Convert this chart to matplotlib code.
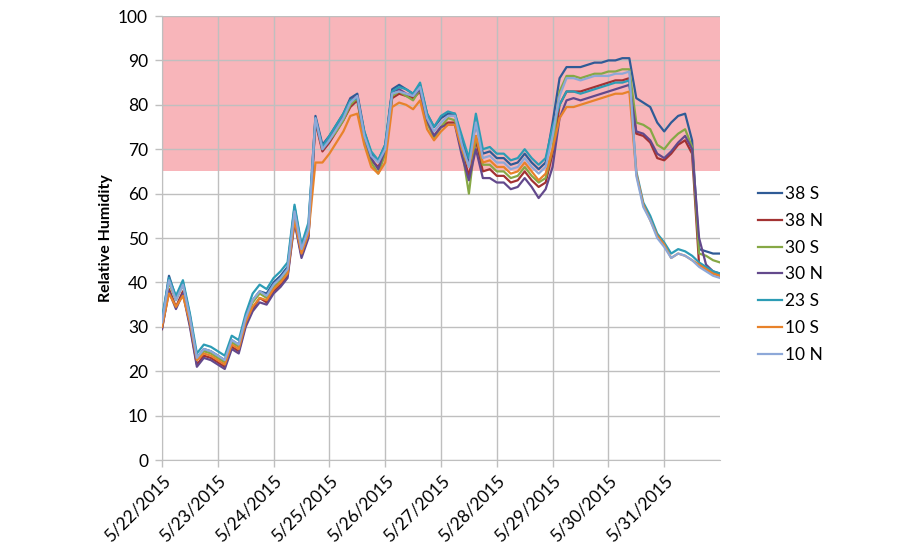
import pandas as pd
import matplotlib.pyplot as plt

# sensor readings every 3 hours, 5/22/2015 00:00 to 6/1/2015 00:00
series_names = ['38 S', '38 N', '30 S', '30 N', '23 S', '10 S', '10 N']
series_colors = ['#2F5B96', '#A33232', '#86A845', '#63498C', '#2C9CB5', '#E8822A', '#8DA8D8']

rh_38s = [31, 41.5, 36.5, 40, 32.5, 23, 25, 24.5, 23.5,
          22.5, 27, 26, 32, 36, 38, 37.5, 40,
          41.5, 43.5, 57, 48, 52.5, 77.5, 71, 73,
          75.5, 78, 81.5, 82.5, 74, 69, 67.5, 71,
          83.5, 84.5, 83.5, 82.5, 84.5, 78, 75, 77,
          78, 78, 72, 67, 76, 69, 69.5, 68,
          68, 66.5, 67, 69, 67, 65.5, 67, 76,
          86, 88.5, 88.5, 88.5, 89, 89.5, 89.5, 90,
          90, 90.5, 90.5, 81.5, 80.5, 79.5, 76, 74,
          76, 77.5, 78, 72, 47.5, 47, 46.5, 46.5]
rh_38n = [29.5, 38.5, 34.5, 38, 30.5, 21.5, 23.5, 23, 22,
          21, 25.5, 24.5, 30.5, 34, 36.5, 35.5, 38,
          39.5, 41.5, 54, 46, 50.5, 76, 69.5, 71.5,
          74, 76.5, 79.5, 81, 72, 67.5, 66, 69,
          81.5, 82.5, 82, 81.5, 83, 76, 73, 75,
          76, 76, 69.5, 64, 72, 65, 65.5, 64,
          64, 62.5, 63, 65, 63, 61.5, 62.5, 69,
          80, 83, 83, 83, 83.5, 84, 84.5, 85,
          85.5, 85.5, 86, 73.5, 73, 71.5, 68, 67.5,
          69, 71, 72, 69, 44, 43, 42, 41.5]
rh_30s = [31, 40, 36, 39.5, 32, 22.5, 24.5, 24, 23,
          22, 26.5, 25.5, 31.5, 35.5, 37.5, 36.5, 39,
          40.5, 42.5, 55.5, 47, 51.5, 76.5, 70, 72,
          74, 76.5, 80, 81.5, 72, 67, 64.5, 69,
          82, 83, 82, 81, 83.5, 76, 72.5, 75,
          77, 76.5, 70, 60, 73, 66.5, 66.5, 65,
          65, 63.5, 64, 66, 64, 62.5, 63.5, 70,
          83, 86.5, 86.5, 86, 86.5, 87, 87, 87.5,
          87.5, 88, 88, 76, 75.5, 74.5, 71, 70,
          72, 73.5, 74.5, 70.5, 46.5, 46, 45, 44.5]
rh_30n = [29.5, 38, 34, 37.5, 30, 21, 23, 22.5, 21.5,
          20.5, 25, 24, 30, 33.5, 35.5, 35, 37.5,
          39, 41, 53.5, 45.5, 50, 76.5, 70, 72,
          75, 77.5, 81, 82, 73, 68, 65.5, 70,
          83, 83.5, 82.5, 82, 83.5, 76.5, 73, 75,
          75.5, 75.5, 68.5, 63, 70, 63.5, 63.5, 62.5,
          62.5, 61, 61.5, 63.5, 61.5, 59, 61, 66,
          77, 81, 81.5, 81, 81.5, 82, 82.5, 83,
          83.5, 84, 84.5, 74, 73.5, 72, 69, 68,
          69.5, 71.5, 73, 70, 50, 44, 42.5, 42]
rh_23s = [32, 41, 37, 40.5, 33, 24, 26, 25.5, 24.5,
          23.5, 28, 27, 33, 37.5, 39.5, 38.5, 41,
          42.5, 44.5, 57.5, 48.5, 53.5, 77, 70.5, 73,
          75.5, 78, 81, 81.5, 74, 69.5, 67.5, 71,
          83, 84, 83.5, 82.5, 85, 78, 75, 77.5,
          78.5, 78, 73, 68, 78, 70, 70.5, 69,
          69, 67.5, 68, 70, 68, 66.5, 68, 75,
          80, 83, 83, 82.5, 83, 83.5, 84, 84.5,
          85, 85, 85.5, 65, 58, 55, 51, 49,
          46.5, 47.5, 47, 46, 44.5, 43.5, 42.5, 42]
rh_10s = [30, 37.5, 34.5, 37, 31, 22.5, 24, 23.5, 22.5,
          21.5, 26, 25, 31, 34.5, 36.5, 36, 38.5,
          40, 42, 54, 46.5, 51, 67, 67, 69,
          71.5, 74, 77.5, 78, 71, 66, 64.5, 67,
          79.5, 80.5, 80, 79, 81, 74.5, 72, 74,
          75.5, 75.5, 70, 66, 73, 67, 67.5, 66,
          66, 64.5, 65, 67, 65, 63, 64.5, 70,
          77, 79.5, 79.5, 80, 80.5, 81, 81.5, 82,
          82.5, 82.5, 83, 64.5, 57.5, 54, 50.5, 48.5,
          45.5, 46.5, 46, 45, 44, 43, 42, 41.5]
rh_10n = [31, 40.5, 36, 39.5, 32, 23, 25, 24.5, 23.5,
          22.5, 27, 26, 32, 36, 38, 37, 39.5,
          41, 43, 56, 47.5, 52, 77, 70, 72,
          74.5, 77, 80.5, 82, 73, 68.5, 67, 70,
          82.5, 83, 82.5, 82, 84, 77, 74, 76,
          77.5, 77.5, 71, 66, 76, 68, 68.5, 67,
          67, 65.5, 66, 68, 66, 64.5, 66, 73,
          82, 86, 86, 85.5, 86, 86.5, 86.5, 86.5,
          87, 87, 87.5, 64, 57, 54, 50, 48,
          45.5, 46.5, 46, 45, 43.5, 42.5, 41.5, 41]

day_labels = ['5/22/2015', '5/23/2015', '5/24/2015', '5/25/2015', '5/26/2015',
              '5/27/2015', '5/28/2015', '5/29/2015', '5/30/2015', '5/31/2015']

all_series = [rh_38s, rh_38n, rh_30s, rh_30n, rh_23s, rh_10s, rh_10n]
times = pd.date_range('2015-05-22', periods=len(rh_10n), freq='3h')
day_ticks = pd.date_range('2015-05-22', periods=len(day_labels), freq='D')

plt.rcParams['font.family'] = ['Lato', 'DejaVu Sans']
grid_col = '#BFBFBF'

fig = plt.figure(figsize=(9, 5.5), dpi=100)
ax = fig.add_axes([0.18, 0.1636, 0.62, 0.8073])

# pink "too humid" zone
ax.axhspan(65, 100, color='#F8B5BA', zorder=0, lw=0)

for name, vals, col in zip(series_names, all_series, series_colors):
    ax.plot(times, vals, color=col, lw=1.6, label=name, zorder=3)

ax.set_xlim(times[0], times[-1])
ax.set_ylim(0, 100)
ax.set_yticks(range(0, 101, 10))
ax.set_xticks(day_ticks)
ax.set_xticklabels(day_labels, rotation=45, ha='right', rotation_mode='anchor')
ax.tick_params(axis='both', labelsize=12.5, color=grid_col, length=5, width=1)
ax.tick_params(axis='y', pad=5)
ax.tick_params(axis='x', pad=4)
ax.grid(True, color=grid_col, lw=1, zorder=1)
ax.set_axisbelow(True)
for s in ['top', 'right']:
    ax.spines[s].set_visible(False)
for s in ['left', 'bottom']:
    ax.spines[s].set_color(grid_col)
ax.set_ylabel('Relative Humidity', fontsize=11.5, fontweight='bold', labelpad=4)

fig.legend(loc='upper left', bbox_to_anchor=(0.825, 0.69), frameon=False,
           fontsize=12.5, handlelength=1.4, handletextpad=0.15, labelspacing=0.62)

plt.savefig('out.png', dpi=100)
